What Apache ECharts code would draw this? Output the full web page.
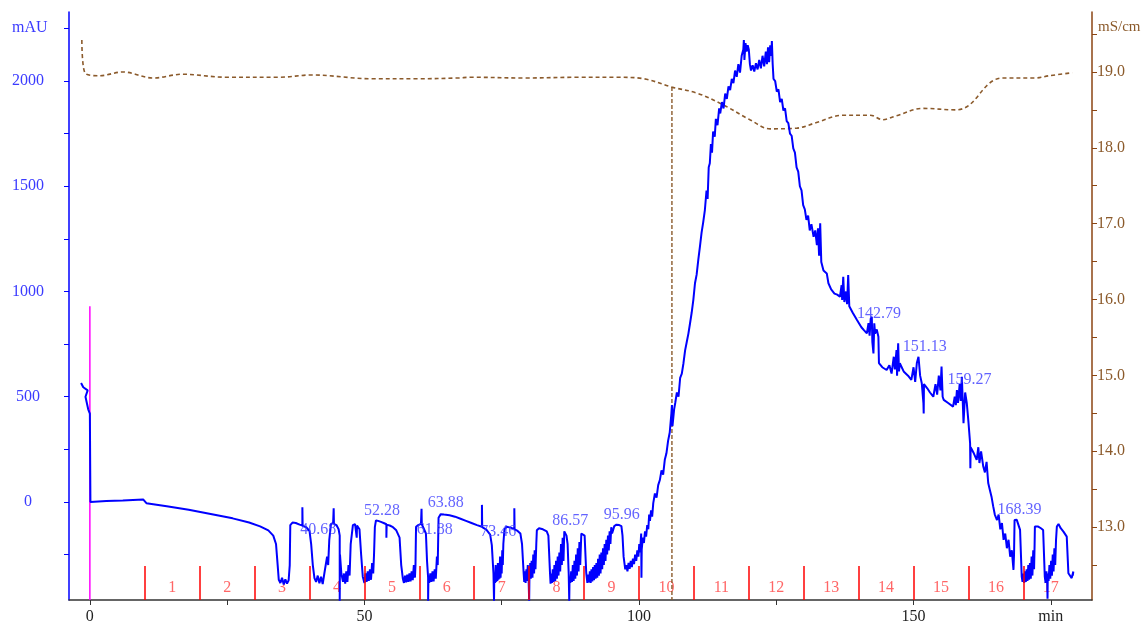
<!DOCTYPE html>
<html>
<head>
<meta charset="utf-8">
<script src="https://cdn.jsdelivr.net/npm/echarts@6/dist/echarts.min.js"></script>
<style>
html,body{margin:0;padding:0;background:#ffffff;}
#chart{width:1147px;height:626px;}
</style>
</head>
<body>
<div id="chart"></div>
<script>
// UV absorbance trace (min, mAU), split by run phase
const uvInjection = [
  [-1.6,565],[-1.2,545],[-0.4,530],[-0.8,500],[-0.3,440],[0,420],[0.1,0]
];
const uvLoad = [
  [0.1,0],[3,4],[6,7],[9.7,12],[10.3,-6],[14,-20],[18,-37],[22,-57],[26,-78],
  [29,-98],[31,-116],[32.5,-135],[33.4,-160],[33.9,-200],[34.2,-300],[34.4,-370]
];
const uvCycles = [
  [34.7,-385],[35.0,-360],[35.3,-392],[35.6,-368],[35.9,-388],[36.2,-372],[36.4,-300],[36.5,-110],
  [36.9,-98],[37.5,-100],[38.2,-108],[38.7,-112],[38.7,-25],[38.75,-114],[39.4,-120],[40.0,-138],
  [40.3,-200],[40.6,-300],[40.9,-362],
  [41.2,-380],[41.5,-350],[41.8,-386],[42.1,-355],[42.4,-390],[42.7,-340],[43.0,-345],[43.2,-260],
  [43.4,-300],[43.6,-180],[43.9,-105],[44.3,-100],[44.4,-30],[44.45,-104],[44.9,-110],[45.3,-130],
  [45.5,-160],[45.5,-470],[45.55,-250],[45.8,-340],
  [46.1,-380],[46.3,-340],[46.5,-388],[46.7,-330],[46.9,-380],[47.1,-300],[47.3,-350],[47.5,-200],
  [47.9,-110],[48.3,-105],[48.6,-108],[48.6,-170],[48.65,-112],[49.1,-130],[49.4,-250],[49.7,-355],
  [50.0,-385],[50.2,-340],[50.4,-380],[50.6,-330],[50.8,-375],[51.0,-320],[51.2,-370],[51.4,-290],
  [51.6,-340],[51.75,-250],[51.9,-120],
  [52.1,-88],[52.5,-90],[53.0,-95],[53.5,-100],[54.0,-106],[54.0,-170],[54.05,-108],[54.6,-112],
  [55.2,-120],[55.8,-135],[56.4,-170],[56.7,-300],[57.0,-365],
  [57.2,-385],[57.4,-350],[57.6,-382],[57.8,-345],[58.0,-380],[58.2,-340],[58.4,-378],[58.6,-330],
  [58.8,-372],[59.0,-300],[59.2,-360],[59.3,-300],[59.4,-118],[59.8,-110],[60.3,-104],[60.4,-32],
  [60.45,-106],[60.8,-115],[61.2,-150],[61.4,-280],[61.6,-360],[61.6,-470],[61.65,-370],
  [61.8,-385],[62.0,-340],[62.2,-380],[62.4,-330],[62.6,-378],[62.8,-320],[63.0,-365],[63.2,-260],
  [63.35,-300],[63.5,-75],[63.9,-58],
  [64.5,-60],[65.5,-63],[66.5,-70],[67.5,-80],[68.5,-90],[69.5,-100],[70.5,-110],[71.4,-118],
  [71.4,-14],[71.45,-120],[72.2,-132],[72.9,-155],[73.2,-205],[73.5,-340],[73.6,-470],[73.65,-362],
  [73.8,-385],[73.9,-300],[74.0,-380],[74.1,-320],[74.2,-375],[74.3,-290],[74.4,-370],[74.5,-300],
  [74.6,-365],[74.7,-260],[74.8,-360],[74.9,-270],[75.0,-340],[75.1,-230],[75.2,-300],[75.3,-200],
  [75.5,-130],[75.9,-118],[76.6,-122],[77.3,-128],[77.3,-30],[77.35,-130],[77.9,-138],[78.4,-150],
  [78.7,-200],[79.0,-340],
  [79.1,-380],[79.2,-330],[79.35,-385],[79.5,-320],[79.6,-375],[79.75,-300],[79.9,-370],[80.0,-470],
  [80.05,-360],[80.2,-290],[80.3,-365],[80.45,-280],[80.6,-360],[80.75,-250],[80.9,-340],[81.0,-230],
  [81.15,-320],[81.3,-200],[81.4,-135],[81.8,-125],[82.5,-130],[83.2,-140],[83.5,-160],[83.8,-340],
  [83.9,-388],[84.0,-340],[84.15,-385],[84.3,-320],[84.45,-380],[84.6,-300],[84.75,-375],[84.9,-280],
  [85.05,-365],[85.2,-260],[85.35,-350],[85.5,-240],[85.65,-330],[85.8,-200],[85.95,-300],[86.1,-170],
  [86.25,-280],[86.4,-140],[86.6,-140],[86.8,-160],[87.0,-200],[87.2,-340],[87.3,-470],[87.35,-370],
  [87.5,-385],[87.65,-330],[87.8,-380],[87.95,-300],[88.1,-375],[88.25,-280],[88.4,-365],[88.55,-250],
  [88.7,-350],[88.85,-220],[89.0,-330],[89.15,-190],[89.3,-300],[89.5,-150],[89.8,-145],[90.1,-160],
  [90.4,-340],[90.6,-385],
  [90.75,-345],[90.9,-382],[91.05,-330],[91.2,-385],[91.35,-320],[91.5,-378],[91.65,-310],[91.8,-372],
  [91.95,-300],[92.1,-365],[92.25,-290],[92.4,-360],[92.55,-270],[92.7,-350],[92.85,-250],[93.0,-340],
  [93.15,-240],[93.3,-320],[93.45,-220],[93.6,-300],[93.75,-200],[93.9,-280],[94.05,-180],[94.2,-250],
  [94.35,-160],[94.5,-230],[94.65,-140],[94.8,-200],[94.95,-120],[95.1,-150],[95.5,-115],
  [95.9,-108],[96.4,-110],[96.8,-115],[97.0,-160],[97.2,-260],[97.5,-320],
  [97.7,-300],[97.9,-330],[98.1,-290],[98.3,-318],[98.5,-280],[98.7,-310],[98.9,-270],[99.1,-295],
  [99.3,-250],[99.5,-280],[99.7,-230],[99.9,-260],[100.05,-200],[100.2,-240]
];
const uvElution = [
  [100.4,-150],[100.45,-360],[100.5,-225],[100.7,-170],[100.9,-195],[101.1,-140],[101.3,-165],
  [101.5,-110],[101.7,-130],[101.85,-60],[102.0,-90],[102.2,-40],[102.4,-70],[102.6,-6],[102.9,40],
  [103.2,20],[103.5,80],[103.8,104],[104.1,150],[104.4,130],[104.7,200],[105.0,231],[105.3,290],
  [105.6,330],[105.9,420],[106.0,460],[106.1,360],[106.4,440],[106.6,470],[106.9,520],[107.2,500],
  [107.5,590],[107.8,610],[108.1,659],[108.4,720],[108.7,760],[109.0,800],[109.3,849],[109.6,900],
  [109.9,960],[110.2,1039],[110.5,1080],[110.8,1150],[111.1,1213],[111.4,1280],[111.7,1330],
  [112.0,1387],[112.3,1480],[112.5,1440],[112.7,1590],[112.9,1609],[113.1,1700],[113.3,1660],
  [113.5,1760],[113.8,1735],[114.0,1820],[114.3,1790],[114.6,1870],[114.8,1846],[115.1,1900],
  [115.4,1870],[115.7,1940],[116.0,1915],[116.3,1975],[116.6,1957],[116.9,2010],[117.2,1990],
  [117.5,2050],[117.8,2020],[118.1,2080],[118.4,2040],[118.7,2120],[119.0,2150],[119.1,2195],
  [119.2,2100],[119.4,2180],[119.6,2140],[119.8,2170],[120.0,2150],[120.2,2080],[120.4,2050],
  [120.7,2075],[121.0,2045],[121.3,2085],[121.6,2055],[121.9,2100],[122.2,2060],[122.5,2120],
  [122.8,2070],[123.1,2140],[123.3,2080],[123.5,2160],[123.7,2090],[123.9,2170],[124.1,2120],
  [124.2,2190],[124.35,2080],[124.5,2010],[124.8,2000],[125.1,1950],[125.4,1960],[125.7,1900],
  [126.0,1915],[126.3,1860],[126.6,1870],[126.9,1810],[127.2,1800],[127.5,1750],[127.8,1740],
  [128.1,1680],[128.4,1660],[128.7,1590],[129.0,1570],[129.3,1500],[129.6,1480],[129.9,1410],
  [130.2,1390],[130.5,1340],[130.8,1360],[131.1,1290],[131.4,1320],[131.8,1260],[132.1,1290],
  [132.4,1220],[132.6,1300],[132.8,1170],[133.0,1324],[133.2,1140],[133.6,1100],[134.2,1086],
  [134.5,1039],[135.0,1010],[135.6,990],[136.1,985],[136.6,975],[136.9,1030],[137.0,960],
  [137.2,1070],[137.4,950],[137.7,1000],[137.9,940],[138.1,1078],[138.3,930],[138.9,900],
  [139.7,864],[140.5,830],[141.0,815],[141.5,801],[141.8,850],[142.0,790],[142.2,870],[142.4,880],
  [142.5,760],[142.7,706],[142.85,849],[143.0,800],[143.3,820],[143.6,785],[143.7,660],[144.3,640],
  [145.1,627],[145.6,650],[146.0,610],[146.4,690],[146.6,630],[146.9,722],[147.0,600],[147.2,754],
  [147.35,620],[147.5,659],[148.2,620],[149.0,600],[149.6,580],[150.0,640],[150.3,570],[150.6,660],
  [150.9,690],[151.2,600],[151.5,564],[151.8,469],[151.85,420],[151.9,560],[152.5,540],[153.0,520],
  [153.6,500],[154.0,560],[154.3,510],[154.6,600],[154.9,530],[155.1,643],[155.3,500],[155.5,485],
  [156.3,470],[157.2,453],[157.5,500],[157.7,460],[157.9,532],[158.1,470],[158.4,560],[158.6,480],
  [158.8,595],[159.0,450],[159.1,374],[159.4,520],[159.7,469],[160.0,380],[160.3,279],[160.35,160],
  [160.4,260]
];
const uvTail = [
  [161.0,230],[161.5,200],[161.8,260],[162.0,185],[162.3,240],[162.7,168],[163.0,140],[163.3,190],
  [163.6,90],[163.9,57],[164.2,25],[164.4,20],[164.5,-20],[164.8,-60],[165.2,-86],[165.5,-60],
  [165.8,-130],[166.1,-100],[166.4,-180],[166.7,-150],[167.0,-220],[167.3,-180],[167.6,-260],
  [167.9,-230],[168.2,-323],[168.3,-250],[168.4,-86],[168.8,-85],[169.1,-93],[169.4,-133],
  [169.6,-280],[169.7,-355],[169.85,-380],[170.0,-340],[170.15,-385],[170.3,-330],[170.45,-380],
  [170.6,-320],[170.75,-375],[170.9,-300],[171.05,-370],[171.2,-290],[171.35,-365],[171.5,-260],
  [171.65,-350],[171.8,-230],[171.95,-320],[172.05,-200],[172.1,-117],[172.7,-117],[173.2,-125],
  [173.6,-133],[173.8,-280],[173.9,-355],[174.05,-385],[174.2,-330],[174.35,-380],[174.4,-460],
  [174.45,-340],[174.6,-375],[174.75,-300],[174.9,-365],[175.05,-280],[175.2,-350],[175.35,-250],
  [175.5,-330],[175.65,-220],[175.8,-300],[175.95,-180],[176.1,-117],[176.4,-105],[176.8,-125],
  [177.3,-141],[177.9,-165],[178.1,-280],[178.2,-339],[178.5,-345],[178.8,-362],[179.1,-331],
  [179.0,-350]
];

// Conductivity trace (min, mS/cm)
const condTime  = [-1.46,-0.91,1.8,6.0,11.5,16.9,24.8,34.4,40.4,51.4,59.7,67.0,69.4,79.2,88.9,96.0,
  100.9,106.0,110.6,115.5,120.2,123.9,128.8,132.2,137.2,142.1,144.4,146.8,151.7,157.7,160.1,163.8,
  166.1,172.1,174.7,178.9];
const condValue = [19.42,18.99,18.95,19.0,18.92,18.97,18.93,18.93,18.96,18.91,18.91,18.92,18.93,18.92,
  18.93,18.93,18.91,18.80,18.72,18.56,18.37,18.25,18.26,18.33,18.43,18.43,18.37,18.42,18.52,18.50,
  18.56,18.85,18.92,18.92,18.95,18.99];

// Injection mark and fraction-collection marks (min)
const injectionTime = 0;
const injectionTop = 930;      // mAU
const pooledAt = 106.0;        // min, dashed drop line
const fractionEdges = [10,20,30,40,50,60,70,80,90,100,110,120,130,140,150,160,170];
const fractionNames = ['1','2','3','4','5','6','7','8','9','10','11','12','13','14','15','16','17'];

// Integrated peak retention times (min) and the mAU level where each is printed
const peakTimes  = [40.68,52.28,61.88,63.88,73.46,86.57,95.96,142.79,151.13,159.27,168.39];
const peakLevels = [-133,-41,-133,-6,-141,-89,-62,896,738,580,-38];

// Axis ranges and tick marks
const uvMin = -466, uvMax = 2328;
const condMin = 12.04, condMax = 19.79;
const timeMin = -3.8, timeMax = 182.5;
const uvTicks = [-250,0,250,500,750,1000,1250,1500,1750,2000,2250];
const uvLabels = [0,500,1000,1500,2000];
const condTicks = [12.5,13,13.5,14,14.5,15,15.5,16,16.5,17,17.5,18,18.5,19,19.5];
const condLabels = [13,14,15,16,17,18,19];
const timeTicks = [0,25,50,75,100,125,150,175];
const timeLabels = [0,50,100,150,175];

const SERIF = '"Liberation Serif","DejaVu Serif",serif';
const BLUE = '#0000ff';
const BROWN = '#8b5a2b';
const RED = '#ff0000';

const uvData = [].concat(uvInjection, uvLoad, uvCycles, uvElution, uvTail);
const condData = condTime.map((t, i) => [t, condValue[i]]);
const fracLines = fractionEdges.map(t => [{coord: [t, uvMin]}, {coord: [t, -304]}]);
const fracLabelData = fractionEdges.map((t, i) => ({value: [t + 5, -408], name: fractionNames[i]}));
const peakData = peakTimes.map((t, i) => ({value: [t, peakLevels[i]], name: t.toFixed(2)}));

const chart = echarts.init(document.getElementById('chart'), null, {renderer: 'canvas'});
chart.setOption({
  animation: false,
  backgroundColor: '#ffffff',
  grid: {left: 69, right: 55, top: 12, bottom: 26, containLabel: false},
  xAxis: {
    type: 'value', min: timeMin, max: timeMax,
    splitLine: {show: false},
    axisLine: {show: true, onZero: false, lineStyle: {color: '#333333', width: 1.5}},
    axisTick: {show: true, length: 5, customValues: timeTicks, lineStyle: {color: '#333333'}},
    axisLabel: {
      customValues: timeLabels, margin: 9, color: '#222222', fontFamily: SERIF, fontSize: 16,
      formatter: v => (v === 175 ? 'min' : String(v))
    }
  },
  yAxis: [
    {
      type: 'value', min: uvMin, max: uvMax, position: 'left',
      splitLine: {show: false},
      axisLine: {show: true, onZero: false, lineStyle: {color: BLUE, width: 1.5}},
      axisTick: {show: true, length: 5, customValues: uvTicks, lineStyle: {color: BLUE}},
      axisLabel: {customValues: uvLabels, align: 'center', margin: 41, color: '#3b3bff',
        fontFamily: SERIF, fontSize: 16, formatter: v => String(v)}
    },
    {
      type: 'value', min: condMin, max: condMax, position: 'right',
      splitLine: {show: false},
      axisLine: {show: true, onZero: false, lineStyle: {color: '#8b4513', width: 1.5}},
      axisTick: {show: true, length: 5, customValues: condTicks, lineStyle: {color: '#8b4513'}},
      axisLabel: {customValues: condLabels, margin: 5, color: '#8b5a2b', fontFamily: SERIF,
        fontSize: 16, formatter: v => v.toFixed(1)}
    }
  ],
  graphic: [
    {type: 'text', left: 12, top: 20, style: {text: 'mAU', fill: '#3b3bff', font: '16px ' + SERIF}},
    {type: 'text', left: 1098, top: 20, style: {text: 'mS/cm', fill: '#8b5a2b', font: '15px ' + SERIF}}
  ],
  series: [
    {
      name: 'fractions', type: 'scatter', yAxisIndex: 0, symbolSize: 0, z: 1,
      data: fracLabelData,
      label: {show: true, position: 'inside', formatter: p => p.name, color: '#ff4040',
        fontFamily: SERIF, fontSize: 16},
      markLine: {silent: true, symbol: 'none', label: {show: false},
        lineStyle: {color: RED, width: 1.5, type: 'solid'}, data: fracLines},
      silent: true
    },
    {
      name: 'Cond', type: 'line', yAxisIndex: 1, data: condData, smooth: 0.35, showSymbol: false,
      z: 2, lineStyle: {color: BROWN, width: 1.6, type: [4, 3]}
    },
    {
      name: 'pool', type: 'line', yAxisIndex: 1, showSymbol: false, z: 2,
      data: [[pooledAt, 18.80], [pooledAt, condMin]],
      lineStyle: {color: BROWN, width: 1.4, type: [4, 2]}
    },
    {
      name: 'inject', type: 'line', yAxisIndex: 0, showSymbol: false, z: 3,
      data: [[injectionTime, uvMin], [injectionTime, injectionTop]],
      lineStyle: {color: '#ff00ff', width: 1.5}
    },
    {
      name: 'UV', type: 'line', yAxisIndex: 0, data: uvData, showSymbol: false, z: 4,
      lineStyle: {color: BLUE, width: 2}
    },
    {
      name: 'peaks', type: 'scatter', yAxisIndex: 0, symbolSize: 0, z: 5, data: peakData,
      label: {show: true, position: 'inside', offset: [5, 0], formatter: p => p.name,
        color: '#3b3bff', fontFamily: SERIF, fontSize: 16},
      silent: true
    }
  ]
});
</script>
</body>
</html>
